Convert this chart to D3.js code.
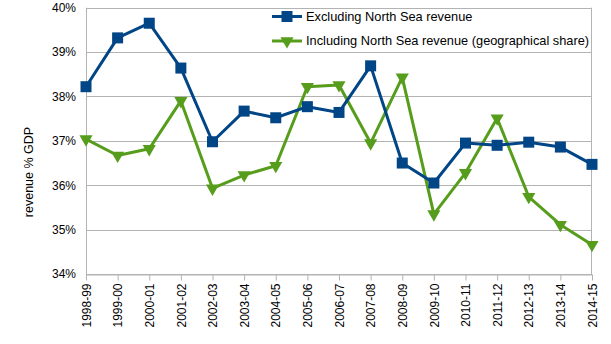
<!DOCTYPE html>
<html>
<head>
<meta charset="utf-8">
<script src="https://cdn.jsdelivr.net/npm/d3@7"></script>
<style>
  body { margin: 0; background: #fff; }
  text { font-family: "Liberation Sans", Arial, sans-serif; fill: #000; }
</style>
</head>
<body>
<div id="chart"></div>
<script>
// years on the x axis
var years = ["1998-99", "1999-00", "2000-01", "2001-02", "2002-03", "2003-04", "2004-05", "2005-06",
  "2006-07", "2007-08", "2008-09", "2009-10", "2010-11", "2011-12", "2012-13", "2013-14", "2014-15"];

// revenue as % of GDP
var excluding = [38.22, 39.32, 39.65, 38.64, 36.98, 37.67, 37.52, 37.77, 37.64, 38.69, 36.50, 36.05,
  36.95, 36.90, 36.97, 36.86, 36.47];
var including = [37.04, 36.67, 36.82, 37.90, 35.93, 36.23, 36.44, 38.22, 38.26, 36.95, 38.43, 35.35,
  36.28, 37.51, 35.74, 35.11, 34.66];

var yTicks = [34, 35, 36, 37, 38, 39, 40];

var seriesNames = ["Excluding North Sea revenue", "Including North Sea revenue (geographical share)"];
var seriesColors = ["#004586", "#579d1c"];

var width = 611, height = 344;
// plot box (note: "top" is taken by window.top, so use other names)
var plotL = 86, plotR = 592, plotT = 7.7, plotB = 274;

var svg = d3.select("#chart").append("svg")
  .attr("width", width)
  .attr("height", height);

var x = d3.scalePoint().domain(years).range([plotL, plotR]);
var y = d3.scaleLinear().domain([34, 40]).range([plotB, plotT]);

// gridlines
svg.append("g")
  .selectAll("line")
  .data(yTicks)
  .enter()
  .append("line")
  .attr("x1", plotL)
  .attr("x2", plotR)
  .attr("y1", function (d) { return Math.round(y(d)) + 0.5; })
  .attr("y2", function (d) { return Math.round(y(d)) + 0.5; })
  .attr("stroke", "#b3b3b3")
  .attr("stroke-width", 1);

// left and right borders
svg.append("line").attr("x1", plotL + 0.5).attr("x2", plotL + 0.5).attr("y1", y(40)).attr("y2", y(34))
  .attr("stroke", "#b3b3b3");
svg.append("line").attr("x1", plotR - 0.5).attr("x2", plotR - 0.5).attr("y1", y(40)).attr("y2", y(34))
  .attr("stroke", "#b3b3b3");

// y axis labels
var yAxis = d3.axisLeft(y).tickValues(yTicks).tickSize(0)
  .tickFormat(function (d) { return d + "%"; });
var gy = svg.append("g").attr("transform", "translate(" + plotL + ",0)").call(yAxis);
gy.select(".domain").remove();
gy.selectAll(".tick text")
  .attr("x", -10)
  .style("font-size", "12px")
  .style("font-family", "Liberation Sans, Arial, sans-serif")
  .attr("fill", "#000");

// x axis
var xAxis = d3.axisBottom(x).tickSize(6).tickSizeOuter(0);
var gx = svg.append("g").attr("transform", "translate(0," + (Math.round(y(34)) + 0.5) + ")").call(xAxis);
gx.select(".domain").attr("stroke", "#b3b3b3");
gx.selectAll(".tick line").attr("stroke", "#b3b3b3");
gx.selectAll(".tick text")
  .attr("transform", "rotate(-90)")
  .attr("x", -9)
  .attr("y", 0)
  .attr("dy", "0.35em")
  .attr("text-anchor", "end")
  .style("font-size", "12px")
  .style("font-family", "Liberation Sans, Arial, sans-serif")
  .attr("fill", "#000");

// y title
svg.append("text")
  .attr("transform", "translate(33,172) rotate(-90)")
  .attr("text-anchor", "middle")
  .style("font-size", "12.5px")
  .text("revenue % GDP");

var line = d3.line()
  .x(function (d, i) { return x(years[i]); })
  .y(function (d) { return y(d); });

var tri = d3.symbol().type(d3.symbolTriangle).size(75);

function drawSeries(values, color, kind) {
  svg.append("path")
    .datum(values)
    .attr("d", line)
    .attr("fill", "none")
    .attr("stroke", color)
    .attr("stroke-width", 3)
    .attr("stroke-linejoin", "round");

  var g = svg.append("g");
  if (kind == "square") {
    g.selectAll("rect")
      .data(values)
      .enter()
      .append("rect")
      .attr("x", function (d, i) { return x(years[i]) - 5.5; })
      .attr("y", function (d) { return y(d) - 5.5; })
      .attr("width", 11)
      .attr("height", 11)
      .attr("fill", color);
  } else {
    g.selectAll("path")
      .data(values)
      .enter()
      .append("path")
      .attr("d", tri)
      .attr("transform", function (d, i) {
        return "translate(" + x(years[i]) + "," + y(d) + ") rotate(180)";
      })
      .attr("fill", color);
  }
}

drawSeries(including, seriesColors[1], "triangle");
drawSeries(excluding, seriesColors[0], "square");

// legend
var legend = svg.append("g");
var legendRows = [16.5, 41];
seriesNames.forEach(function (name, i) {
  var ly = legendRows[i];
  legend.append("line")
    .attr("x1", 272).attr("x2", 302)
    .attr("y1", ly).attr("y2", ly)
    .attr("stroke", seriesColors[i])
    .attr("stroke-width", 3);
  if (i == 0) {
    legend.append("rect")
      .attr("x", 287 - 5.5).attr("y", ly - 5.5)
      .attr("width", 11).attr("height", 11)
      .attr("fill", seriesColors[i]);
  } else {
    legend.append("path")
      .attr("d", tri)
      .attr("transform", "translate(287," + ly + ") rotate(180)")
      .attr("fill", seriesColors[i]);
  }
  legend.append("text")
    .attr("x", 306)
    .attr("y", ly)
    .attr("dy", "0.35em")
    .style("font-size", "12.8px")
    .text(name);
});
</script>
</body>
</html>
